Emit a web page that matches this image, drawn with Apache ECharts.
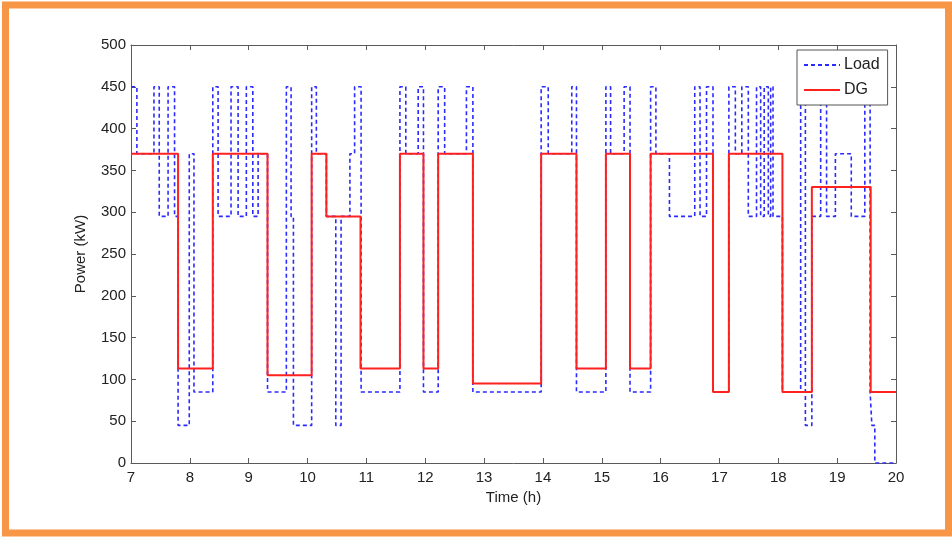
<!DOCTYPE html>
<html>
<head>
<meta charset="utf-8">
<title>Load and DG power</title>
<script src="https://cdn.jsdelivr.net/npm/echarts@6/dist/echarts.min.js"></script>
<style>
  html, body { margin: 0; padding: 0; background: #ffffff; }
  #chart { width: 952px; height: 537px; }
</style>
</head>
<body>
<div id="chart"></div>
<script>
// Load demand: time (h) at which each level begins, and the level (kW)
const loadTimes = [7.00, 7.10, 7.39, 7.48, 7.63, 7.74, 7.80, 7.99, 8.07, 8.39, 8.48, 8.70, 8.82, 8.96, 9.07, 9.16, 9.32,
  9.64, 9.72, 9.76, 10.07, 10.15, 10.32, 10.48, 10.57, 10.72, 10.80, 10.91, 11.57, 11.67, 11.88, 11.97, 12.22, 12.33,
  12.70, 12.81, 13.97, 14.09, 14.49, 14.57, 15.07, 15.15, 15.38, 15.48, 15.83, 15.92, 16.15, 16.58, 16.67, 16.78,
  16.89, 17.16, 17.27, 17.38, 17.49, 17.63, 17.70, 17.76, 17.83, 17.87, 17.91, 18.07, 18.38, 18.46, 18.57, 18.72,
  18.82, 18.97, 19.24, 19.47, 19.56, 19.59, 19.64, 20.00];
const loadValues = [450, 370, 450, 295, 450, 295, 45, 370, 85, 450, 295, 450, 295, 450, 295, 370, 85,
  450, 295, 45, 450, 370, 295, 45, 295, 370, 450, 85, 450, 370, 450, 85, 450, 370,
  450, 85, 450, 370, 450, 85, 450, 370, 450, 85, 450, 370, 295, 450, 295, 450,
  85, 450, 370, 450, 295, 450, 295, 450, 295, 450, 295, 85, 450, 45, 295, 450,
  295, 370, 295, 450, 85, 45, 0, 0];

// Diesel generator output: time (h) at which each level begins, and the level (kW)
const dgTimes = [7.00, 7.80, 8.39, 9.32, 10.07, 10.32, 10.90, 11.57, 11.97, 12.22, 12.81, 13.97, 14.57, 15.07,
  15.48, 15.83, 16.89, 17.16, 18.07, 18.57, 19.57, 20.00];
const dgValues = [370, 113, 370, 105, 370, 295, 113, 370, 113, 370, 95, 370, 113, 370,
  113, 370, 85, 370, 85, 330, 85, 85];

// Axis tick labels
const xTickLabels = ['7', '8', '9', '10', '11', '12', '13', '14', '15', '16', '17', '18', '19', '20'];
const yTickLabels = ['0', '50', '100', '150', '200', '250', '300', '350', '400', '450', '500'];

const seriesNames = ['Load', 'DG'];

function pairs(ts, vs) {
  return ts.map((t, i) => [t, vs[i]]);
}

const xMin = Number(xTickLabels[0]);
const xMax = Number(xTickLabels[xTickLabels.length - 1]);
const yMin = Number(yTickLabels[0]);
const yMax = Number(yTickLabels[yTickLabels.length - 1]);

const font = 'Liberation Sans, Arial, Helvetica, sans-serif';
const axisColor = '#5a5a5a';
const textColor = '#222222';

const chart = echarts.init(document.getElementById('chart'), null, { renderer: 'canvas' });

const baseX = {
  type: 'value', min: xMin, max: xMax, interval: 1,
  axisLine: { show: true, onZero: false, lineStyle: { color: axisColor, width: 1 } },
  axisTick: { show: true, inside: true, length: 5, lineStyle: { color: axisColor } },
  splitLine: { show: false }
};
const baseY = {
  type: 'value', min: yMin, max: yMax, interval: 50,
  axisLine: { show: true, onZero: false, lineStyle: { color: axisColor, width: 1 } },
  axisTick: { show: true, inside: true, length: 5, lineStyle: { color: axisColor } },
  splitLine: { show: false }
};

chart.setOption({
  animation: false,
  backgroundColor: '#ffffff',
  graphic: [{
    type: 'rect',
    shape: { x: 5.5, y: 5, width: 943, height: 528 },
    style: { fill: 'none', stroke: '#F79646', lineWidth: 7 },
    silent: true, z: 100
  }],
  grid: { left: 131, top: 45, right: 56, bottom: 74, containLabel: false },
  legend: {
    data: seriesNames,
    orient: 'vertical',
    left: 797, top: 50,
    padding: [7, 8, 7, 6],
    itemGap: 9,
    itemWidth: 36,
    itemHeight: 12,
    backgroundColor: '#ffffff',
    borderColor: '#555555',
    borderWidth: 1,
    borderRadius: 0,
    itemStyle: { opacity: 0 },
    textStyle: { fontFamily: font, fontSize: 16, color: textColor, padding: [0, 0, 0, -1] }
  },
  xAxis: [
    Object.assign({}, baseX, {
      position: 'bottom',
      name: 'Time (h)', nameLocation: 'middle', nameGap: 27,
      nameTextStyle: { fontFamily: font, fontSize: 15, color: textColor },
      axisLabel: { fontFamily: font, fontSize: 15, color: textColor, margin: 7,
        formatter: (v) => xTickLabels[Math.round(v - xMin)] }
    }),
    Object.assign({}, baseX, { position: 'top', axisLabel: { show: false } })
  ],
  yAxis: [
    Object.assign({}, baseY, {
      position: 'left',
      name: 'Power (kW)', nameLocation: 'middle', nameGap: 43,
      nameTextStyle: { fontFamily: font, fontSize: 15, color: textColor },
      axisLabel: { fontFamily: font, fontSize: 15, color: textColor, margin: 5,
        formatter: (v) => yTickLabels[Math.round((v - yMin) / 50)] }
    }),
    Object.assign({}, baseY, { position: 'right', axisLabel: { show: false } })
  ],
  series: [
    {
      name: seriesNames[0], type: 'line', step: 'end',
      xAxisIndex: 0, yAxisIndex: 0,
      data: pairs(loadTimes, loadValues),
      symbol: 'none', showSymbol: false,
      lineStyle: { color: '#2b2bff', width: 1.6, type: [4, 3] },
      itemStyle: { color: '#2b2bff' },
      z: 2
    },
    {
      name: seriesNames[1], type: 'line', step: 'end',
      xAxisIndex: 0, yAxisIndex: 0,
      data: pairs(dgTimes, dgValues),
      symbol: 'none', showSymbol: false,
      lineStyle: { color: '#ff2020', width: 2 },
      itemStyle: { color: '#ff2020' },
      z: 3
    }
  ]
});
</script>
</body>
</html>
